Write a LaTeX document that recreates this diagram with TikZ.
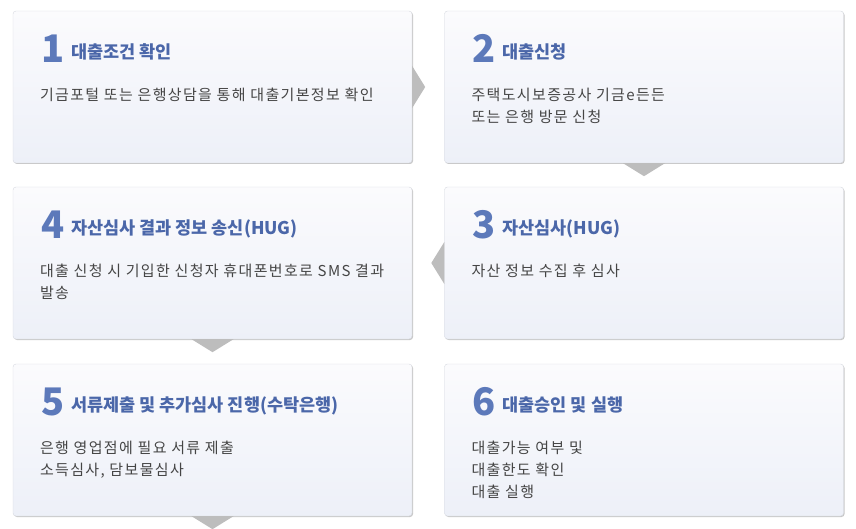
\documentclass[tikz,border=0pt]{standalone}
\usepackage{fontspec}
\setmainfont{Noto Sans CJK KR}
\usetikzlibrary{calc,math,shadows}

\definecolor{stepblue}{HTML}{5C79BA}
\definecolor{headblue}{HTML}{4B67A9}
\definecolor{bodygray}{HTML}{454545}
\definecolor{tabgray}{HTML}{BDBDBD}
\definecolor{edgegray}{HTML}{D6D9E0}
\definecolor{cardtop}{HTML}{FBFBFD}
\definecolor{cardbottom}{HTML}{EDF0F8}

\begin{document}
\begin{tikzpicture}[x=1pt,y=1pt,
    card/.style={rectangle,rounded corners=3pt,draw=edgegray,
      top color=cardtop,bottom color=cardbottom,
      minimum width=399pt,minimum height=152pt,inner sep=0pt,
      drop shadow={shadow xshift=1pt,shadow yshift=-1pt,opacity=.4,fill=black!55}},
    num/.style={font=\fontsize{38}{38}\selectfont\bfseries,text=stepblue,inner sep=0pt,anchor=base west},
    head/.style={font=\fontsize{17.5}{18}\selectfont\bfseries,text=headblue,inner sep=0pt,anchor=base west},
    body/.style={font=\fontsize{15}{22}\selectfont\addfontfeatures{LetterSpace=9},text=bodygray,inner sep=0pt,anchor=north west,align=left},
    tab/.style={fill=tabgray}]
  \tikzmath{
      \w=399; \h=152;
  }
  \useasboundingbox (0,0) rectangle (856,-529);
  % step cards: number / centre x / centre y / title / text
  \foreach \i/\cx/\cy/\head/\body in {
      1/212.5/87/{대출조건 확인}/{기금포털 또는 은행상담을 통해 대출기본정보 확인},
      2/644/87/{대출신청}/{주택도시보증공사 기금e든든\\또는 은행 방문 신청},
      3/644/263/{자산심사(HUG)}/{자산 정보 수집 후 심사},
      4/212.5/263/{자산심사 결과 정보 송신(HUG)}/{대출 신청 시 기입한 신청자 휴대폰번호로 SMS 결과\\발송},
      5/212.5/440/{서류제출 및 추가심사 진행(수탁은행)}/{은행 영업점에 필요 서류 제출\\소득심사, 담보물심사},
      6/644/440/{대출승인 및 실행}/{대출가능 여부 및\\대출한도 확인\\대출 실행}} {
    \node[card] (card\i) at (\cx,-\cy) {};
    \node[num] (num\i) at ($(card\i.north west)+(28,-52)$) {\i};
    \node[head] (head\i) at ($(card\i.north west)+(58,-48)$) {\head};
    \node[body] (body\i) at ($(card\i.north west)+(27,-77)$) {\body};
  }
  % flow tabs
  \fill[tab] ($(card1.east)+(0,21)$) -- ($(card1.east)+(13,0)$) -- ($(card1.east)+(0,-21)$) -- cycle;
  \fill[tab] ($(card2.south)+(-21,0)$) -- ($(card2.south)+(0,-13)$) -- ($(card2.south)+(21,0)$) -- cycle;
  \fill[tab] ($(card3.west)+(0,21)$) -- ($(card3.west)+(-13,0)$) -- ($(card3.west)+(0,-21)$) -- cycle;
  \fill[tab] ($(card4.south)+(-21,0)$) -- ($(card4.south)+(0,-13)$) -- ($(card4.south)+(21,0)$) -- cycle;
  \fill[tab] ($(card5.south)+(-21,0)$) -- ($(card5.south)+(0,-13)$) -- ($(card5.south)+(21,0)$) -- cycle;
\end{tikzpicture}
\end{document}
